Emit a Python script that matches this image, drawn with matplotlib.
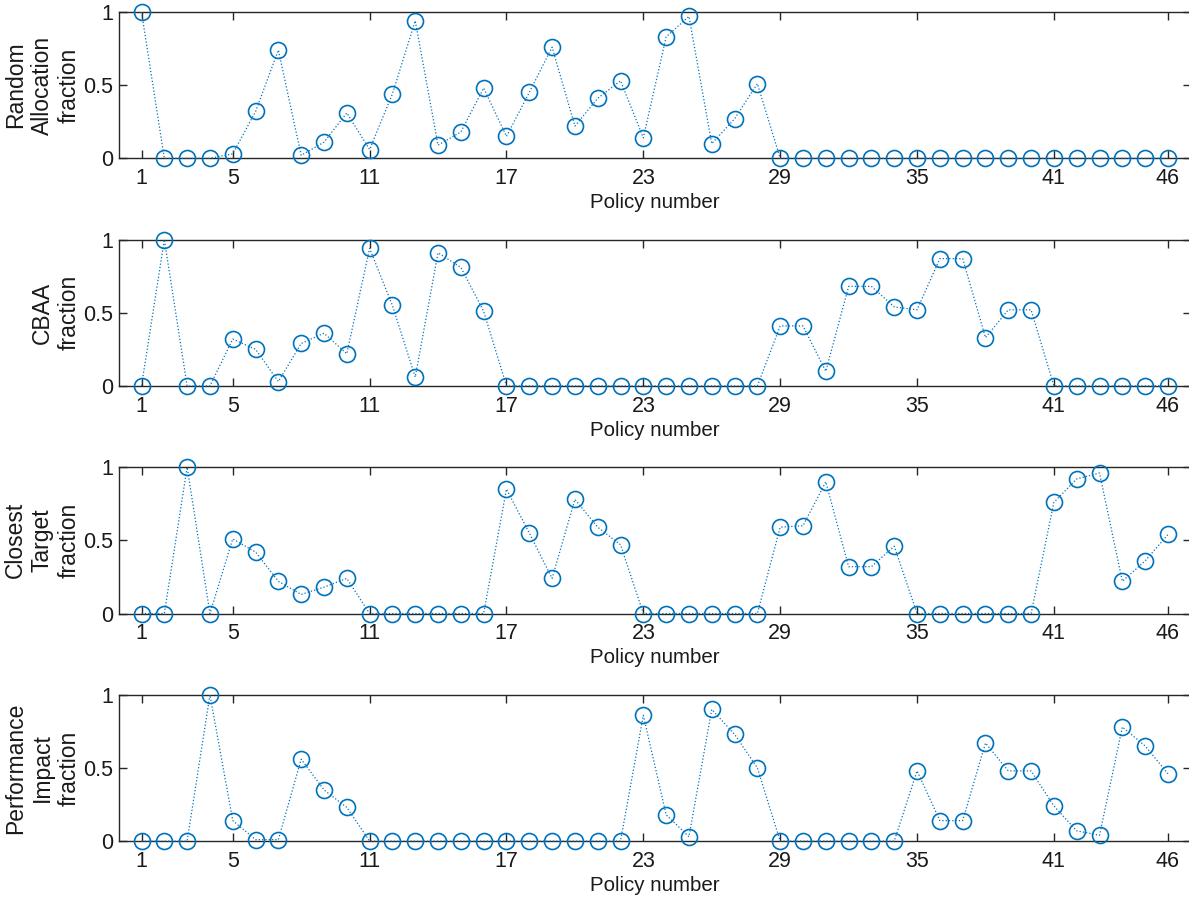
import matplotlib
matplotlib.use("Agg")
import matplotlib.pyplot as plt

plt.rcParams['font.family'] = ['Liberation Sans', 'DejaVu Sans']

policy = list(range(1, 47))

random_alloc = [1.00, 0, 0, 0, 0.03, 0.32, 0.74, 0.02, 0.11, 0.31,
                0.06, 0.44, 0.94, 0.09, 0.18, 0.48, 0.15, 0.45, 0.76, 0.22,
                0.41, 0.53, 0.14, 0.83, 0.97, 0.10, 0.27, 0.51, 0, 0,
                0, 0, 0, 0, 0, 0, 0, 0, 0, 0,
                0, 0, 0, 0, 0, 0]
cbaa = [0, 1.00, 0, 0, 0.32, 0.25, 0.03, 0.29, 0.36, 0.22,
        0.94, 0.55, 0.06, 0.91, 0.81, 0.51, 0, 0, 0, 0,
        0, 0, 0, 0, 0, 0, 0, 0, 0.41, 0.41,
        0.10, 0.68, 0.68, 0.54, 0.52, 0.87, 0.87, 0.33, 0.52, 0.52,
        0, 0, 0, 0, 0, 0]
closest = [0, 0, 1.00, 0, 0.51, 0.42, 0.22, 0.13, 0.18, 0.24,
           0, 0, 0, 0, 0, 0, 0.85, 0.55, 0.24, 0.78,
           0.59, 0.47, 0, 0, 0, 0, 0, 0, 0.59, 0.60,
           0.90, 0.32, 0.32, 0.46, 0, 0, 0, 0, 0, 0,
           0.76, 0.92, 0.96, 0.22, 0.36, 0.54]
perf_impact = [0, 0, 0, 1.00, 0.14, 0.01, 0.01, 0.56, 0.35, 0.23,
               0, 0, 0, 0, 0, 0, 0, 0, 0, 0,
               0, 0, 0.86, 0.18, 0.03, 0.90, 0.73, 0.50, 0, 0,
               0, 0, 0, 0, 0.48, 0.14, 0.14, 0.67, 0.48, 0.48,
               0.24, 0.07, 0.04, 0.78, 0.65, 0.46]

series = [random_alloc, cbaa, closest, perf_impact]
ylabels = ["Random\nAllocation\nfraction", "CBAA\nfraction",
           "Closest\nTarget\nfraction", "Performance\nImpact\nfraction"]
xticks = [1, 5, 11, 17, 23, 29, 35, 41, 46]

W, H = 1189, 901
fig = plt.figure(figsize=(W / 100, H / 100), dpi=100)

blue = '#0072BD'
edge = '#262626'
left_px, top0, ax_h, step = 118.7, 12.0, 146.3, 227.6
ax_w = 47 * 22.81

for i, (vals, lab) in enumerate(zip(series, ylabels)):
    top = top0 + i * step
    ax = fig.add_axes([left_px / W, 1 - (top + ax_h) / H, ax_w / W, ax_h / H])
    ax.plot(policy, vals, linestyle=':', color=blue, linewidth=0.9,
            marker='o', markersize=11.5, markerfacecolor='none',
            markeredgecolor=blue, markeredgewidth=1.2, clip_on=False, zorder=3)
    ax.set_xlim(0, 47)
    ax.set_ylim(0, 1)
    ax.set_xticks(xticks)
    ax.set_yticks([0, 0.5, 1])
    ax.set_yticklabels(['0', '0.5', '1'])
    ax.tick_params(direction='in', top=True, right=True, length=6, width=1.0,
                   color=edge, labelcolor='#1a1a1a', labelsize=15.5)
    ax.tick_params(axis='x', pad=7)
    ax.tick_params(axis='y', pad=4)
    for s in ax.spines.values():
        s.set_color(edge)
        s.set_linewidth(1.0)
    ax.set_xlabel("Policy number", fontsize=14.8, color='#1a1a1a', labelpad=3)
    ax.set_ylabel(lab, fontsize=16.5, color='#1a1a1a', labelpad=2,
                  linespacing=1.2)

fig.savefig("out.png", dpi=100)
